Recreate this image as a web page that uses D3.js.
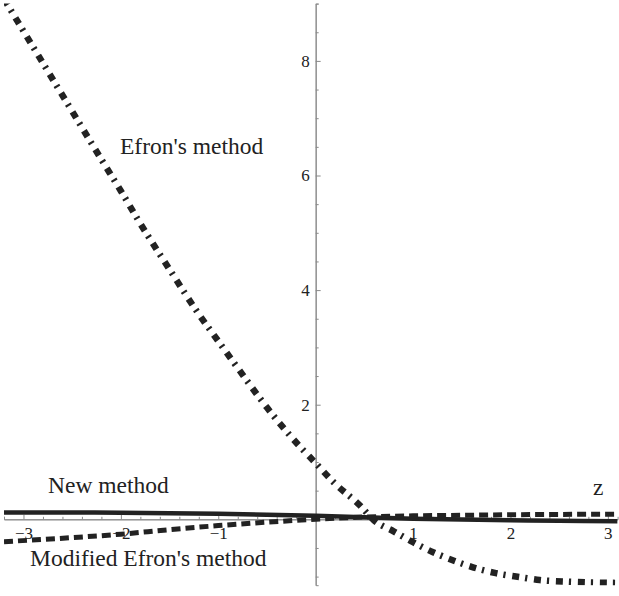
<!DOCTYPE html>
<html>
<head>
<meta charset="utf-8">
<script src="https://cdn.jsdelivr.net/npm/d3@7"></script>
<style>
  body { margin: 0; background: #fff; }
  text { font-family: "Liberation Serif", "Times New Roman", serif; fill: #222; }
</style>
</head>
<body>
<div id="chart"></div>
<script>
// data
var zEfron = [-3.2, -3.0, -2.8, -2.5, -2.2, -2.0, -1.8, -1.5, -1.2, -1.0, -0.8, -0.5, -0.2, 0, 0.2, 0.45, 0.6, 0.8, 1.0, 1.2, 1.4, 1.6, 1.85, 2.1, 2.3, 2.6, 3.1];
var efron = [9.08, 8.52, 7.96, 7.12, 6.28, 5.73, 5.16, 4.36, 3.58, 3.11, 2.64, 1.95, 1.34, 0.98, 0.62, 0.25, -0.02, -0.21, -0.40, -0.57, -0.71, -0.83, -0.94, -1.01, -1.06, -1.09, -1.11];

var zNew = [-3.2, -2.5, -2.0, -1.5, -1.0, -0.5, 0, 0.5, 1.0, 1.5, 2.0, 2.5, 3.1];
var newMethod = [0.12, 0.118, 0.115, 0.107, 0.095, 0.08, 0.06, 0.035, 0.01, -0.005, -0.015, -0.025, -0.035];
var modified = [-0.39, -0.32, -0.26, -0.18, -0.11, -0.05, 0.0, 0.04, 0.06, 0.07, 0.08, 0.085, 0.09];

var xMajor = [-3, -2, -1, 1, 2, 3];
var yMajor = [2, 4, 6, 8];

var width = 619, height = 596;

var svg = d3.select("#chart")
    .append("svg")
    .attr("width", width)
    .attr("height", height);

var x = d3.scaleLinear().domain([-3.2, 3.1]).range([4, 617.6]);
var y = d3.scaleLinear().domain([-1.15, 9]).range([585.2, 3.6]);

// minor ticks
var xMinor = d3.range(-32, 32).map(d => d / 10).filter(d => Math.abs(Math.round(d * 10) % 2) === 0 && xMajor.indexOf(d) < 0 && d !== 0);
var yMinor = d3.range(-2, 19).map(d => d / 2).filter(d => yMajor.indexOf(d) < 0 && d !== 0);

var gx = svg.append("g").attr("transform", "translate(0," + y(0) + ")");
gx.call(d3.axisBottom(x).tickValues(xMinor).tickSize(-2.5).tickFormat(""));
gx.append("g").call(d3.axisBottom(x).tickValues(xMajor).tickSizeInner(-4.5).tickSizeOuter(0).tickPadding(8)
    .tickFormat(d => d < 0 ? "\u2212" + Math.abs(d) : d));

var gy = svg.append("g").attr("transform", "translate(" + x(0) + ",0)");
gy.call(d3.axisLeft(y).tickValues(yMinor).tickSize(-3).tickFormat(""));
gy.append("g").call(d3.axisLeft(y).tickValues(yMajor).tickSizeInner(-5).tickSizeOuter(0).tickPadding(6));

svg.selectAll(".domain").attr("stroke", "#8a8a8a");
svg.selectAll(".tick line").attr("stroke", "#8a8a8a");
svg.selectAll(".tick text").style("font-family", "'Liberation Serif', serif").style("font-size", "17px").attr("fill", "#222");

// clip to the plot range
svg.append("clipPath").attr("id", "clip")
    .append("rect").attr("x", x(-3.2)).attr("y", y(9)).attr("width", x(3.1) - x(-3.2)).attr("height", y(-1.15) - y(9));

var line = d3.line().curve(d3.curveMonotoneX);

var plot = svg.append("g").attr("clip-path", "url(#clip)");

plot.append("path")
    .attr("d", line(zNew.map((z, i) => [x(z), y(newMethod[i])])))
    .attr("fill", "none")
    .attr("stroke", "#222")
    .attr("stroke-width", 4.5);

plot.append("path")
    .attr("d", line(zNew.map((z, i) => [x(z), y(modified[i])])))
    .attr("fill", "none")
    .attr("stroke", "#222")
    .attr("stroke-width", 5)
    .attr("stroke-dasharray", "9,5");

plot.append("path")
    .attr("d", line(zEfron.map((z, i) => [x(z), y(efron[i])])))
    .attr("fill", "none")
    .attr("stroke", "#222")
    .attr("stroke-width", 6.5)
    .attr("stroke-dasharray", "7,6,2.2,6.8");

// labels
var labels = [
    { t: "Efron's method", x: 120, y: 154 },
    { t: "New method", x: 48, y: 493 },
    { t: "Modified Efron's method", x: 30, y: 566 }
];
svg.selectAll(".lbl").data(labels).enter().append("text")
    .attr("class", "lbl")
    .attr("x", d => d.x).attr("y", d => d.y)
    .style("font-size", "23.5px")
    .text(d => d.t);

svg.append("text")
    .attr("x", 593).attr("y", 495)
    .style("font-size", "23.5px")
    .text("z");
</script>
</body>
</html>
